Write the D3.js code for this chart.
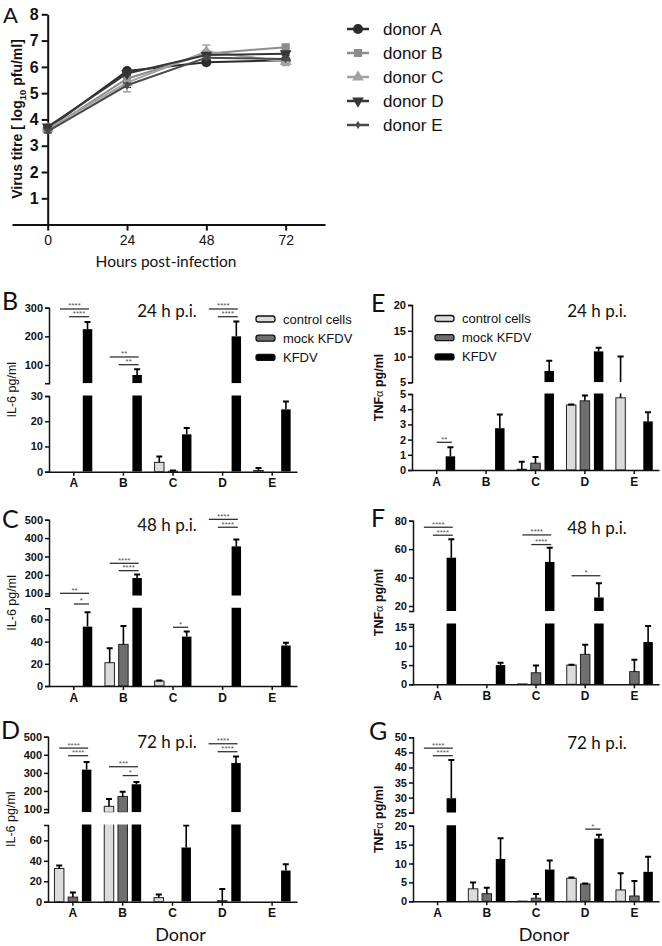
<!DOCTYPE html>
<html>
<head>
<meta charset="utf-8">
<script src="https://cdn.jsdelivr.net/npm/d3@7"></script>
<style>
  body { margin: 0; background: #fff; }
  svg text { font-family: "Liberation Sans", Arial, sans-serif; }
  .lato { font-family: Lato, "Liberation Sans", sans-serif !important; }
</style>
</head>
<body>
<svg id="fig" width="662" height="946"></svg>
<script>
// ---- panel A: virus titre per donor ----
const hours = [0, 24, 48, 72];
const donorNames = ["donor A", "donor B", "donor C", "donor D", "donor E"];
const titreA = [3.65, 5.84, 6.18, 6.25];
const titreB = [3.6, 5.55, 6.5, 6.75];
const titreC = [3.65, 5.4, 6.58, 6.2];
const titreD = [3.72, 5.75, 6.45, 6.5];
const titreE = [3.55, 5.3, 6.35, 6.3];
const sdA = [0.05, 0.05, 0.05, 0.05];
const sdB = [0.05, 0.1, 0.1, 0.05];
const sdC = [0.08, 0.35, 0.25, 0.15];
const sdD = [0.05, 0.05, 0.05, 0.05];
const sdE = [0.05, 0.08, 0.05, 0.05];

// ---- bar panels ----
const donors = ["A", "B", "C", "D", "E"];
const seriesKeys = ["control", "mock", "kfdv"];
const seriesNames = ["control cells", "mock KFDV", "KFDV"];

const il6_24h_control = [0, 0, 3.7, 0, 0.5];
const il6_24h_mock = [0, 0, 0.2, 0, 0];
const il6_24h_kfdv = [225, 65, 14.8, 200, 24.7];
const il6_24h_control_sd = [0, 0, 2.3, 0, 1.0];
const il6_24h_mock_sd = [0, 0, 0.3, 0, 0];
const il6_24h_kfdv_sd = [25, 20, 2.5, 52, 3.1];

const il6_48h_control = [0, 21, 4.5, 0, 0];
const il6_48h_mock = [0, 37.5, 0, 0, 0];
const il6_48h_kfdv = [53.5, 183, 44.5, 355, 36.5];
const il6_48h_control_sd = [0, 13, 0.5, 0, 0];
const il6_48h_mock_sd = [0, 16.5, 0, 0, 0];
const il6_48h_kfdv_sd = [13, 19, 4.5, 38, 2.5];

const il6_72h_control = [32.5, 115, 4, 0, 0];
const il6_72h_mock = [4.5, 170, 0, 1, 0];
const il6_72h_kfdv = [318, 237, 53, 355, 30.5];
const il6_72h_control_sd = [3, 40, 3, 0, 0];
const il6_72h_mock_sd = [4.5, 25, 0, 11.5, 0];
const il6_72h_kfdv_sd = [42, 13, 21.5, 35, 6];

const tnf_24h_control = [0, 0, 0.05, 4.28, 4.75];
const tnf_24h_mock = [0, 0, 0.45, 4.55, 0];
const tnf_24h_kfdv = [0.9, 2.75, 7.2, 11, 3.2];
const tnf_24h_control_sd = [0, 0, 0.5, 0.03, 5.25];
const tnf_24h_mock_sd = [0, 0, 0.4, 0.35, 0];
const tnf_24h_kfdv_sd = [0.6, 0.9, 2, 0.7, 0.6];

const tnf_48h_control = [0, 0, 0.1, 5, 0];
const tnf_48h_mock = [0, 0, 3, 7.8, 3.3];
const tnf_48h_kfdv = [54, 5, 51, 26, 11];
const tnf_48h_control_sd = [0, 0, 0, 0.1, 0];
const tnf_48h_mock_sd = [0, 0, 1.9, 2.5, 3.1];
const tnf_48h_kfdv_sd = [13, 0.6, 10, 10, 4.2];

const tnf_72h_control = [0, 3.3, 0.05, 6.1, 3];
const tnf_72h_mock = [0, 2, 0.8, 4.6, 1.4];
const tnf_72h_kfdv = [29.8, 11.2, 8.4, 16.6, 7.8];
const tnf_72h_control_sd = [0, 1.7, 0, 0.2, 4.4];
const tnf_72h_mock_sd = [0, 1.6, 1.1, 0.1, 4];
const tnf_72h_kfdv_sd = [12.7, 5.5, 2.4, 1, 4];

// significance bars: donor, start bar, level (data units of segment), segment, stars
const sig_il6_24h = [["A", "control", 295.5, "top", "****"], ["A", "mock", 268.6, "top", "****"],
  ["B", "control", 128, "top", "**"], ["B", "mock", 101, "top", "**"],
  ["D", "control", 295.5, "top", "****"], ["D", "mock", 268.6, "top", "****"]];
const sig_il6_48h = [["A", "control", 100, "top", "**"], ["A", "mockc", 42, "top", "*"],
  ["B", "control", 263, "top", "****"], ["B", "mock", 223, "top", "****"],
  ["C", "mockc", 52.9, "low", "*"],
  ["D", "control", 502, "top", "****"], ["D", "mock", 459, "top", "****"]];
const sig_il6_72h = [["A", "control", 437, "top", "****"], ["A", "mock", 395, "top", "****"],
  ["B", "control", 334, "top", "***"], ["B", "mockc", 285, "top", "*"],
  ["D", "control", 461, "top", "****"], ["D", "mock", 417, "top", "****"]];
const sig_tnf_24h = [["A", "mockc", 1.82, "low", "**"]];
const sig_tnf_48h = [["A", "control", 75.4, "top", "****"], ["A", "mock", 69.8, "top", "****"],
  ["C", "control", 70, "top", "****"], ["C", "mock", 63.2, "top", "****"],
  ["D", "control", 41.3, "top", "*"]];
const sig_tnf_72h = [["A", "control", 46.4, "top", "****"], ["A", "mock", 43.9, "top", "****"],
  ["D", "mockc", 19.1, "low", "*"]];

const fills = { control: "#dcdcdc", mock: "#6f6f6f", kfdv: "#000" };

const svg = d3.select("#fig");

// ================= panel A =================
function drawPanelA() {
    const g = svg.append("g");
    const x = d3.scaleLinear().domain([-10.8, 83.9]).range([12, 325]);
    const y = d3.scaleLinear().domain([0, 8]).range([224.6, 14.3]);

    const ya = g.append("g")
        .attr("transform", `translate(${x(0)},0)`)
        .call(d3.axisLeft(y).tickValues([1, 2, 3, 4, 5, 6, 7, 8]).tickSize(6).tickSizeOuter(0).tickPadding(3));
    ya.selectAll("text").attr("font-size", 16).attr("font-weight", "bold").attr("fill", "#111");
    ya.selectAll("line,path").attr("stroke", "#111").attr("stroke-width", 2);

    const xa = g.append("g")
        .attr("transform", `translate(0,${y(0)})`)
        .call(d3.axisBottom(x).tickValues(hours).tickSize(6).tickSizeOuter(0).tickPadding(4));
    xa.selectAll("text").attr("font-size", 14).attr("fill", "#111");
    xa.selectAll("line,path").attr("stroke", "#111").attr("stroke-width", 2);

    const series = [
        { name: donorNames[0], v: titreA, sd: sdA, color: "#2b2b2b", sym: d3.symbolCircle, size: 80, rot: 0 },
        { name: donorNames[1], v: titreB, sd: sdB, color: "#8c8c8c", sym: d3.symbolSquare, size: 64, rot: 0 },
        { name: donorNames[2], v: titreC, sd: sdC, color: "#a2a2a2", sym: d3.symbolTriangle, size: 60, rot: 0 },
        { name: donorNames[3], v: titreD, sd: sdD, color: "#363636", sym: d3.symbolTriangle, size: 60, rot: 180 },
        { name: donorNames[4], v: titreE, sd: sdE, color: "#4a4a4a", sym: d3.symbolDiamond, size: 22, rot: 0 }
    ];

    const line = d3.line().x((d, i) => x(hours[i])).y(d => y(d));

    series.forEach(s => {
        g.append("path").datum(s.v)
            .attr("d", line).attr("fill", "none")
            .attr("stroke", s.color).attr("stroke-width", 2);
        s.v.forEach((v, i) => {
            const cx = x(hours[i]);
            g.append("line").attr("x1", cx).attr("x2", cx)
                .attr("y1", y(v - s.sd[i])).attr("y2", y(v + s.sd[i]))
                .attr("stroke", s.color).attr("stroke-width", 1.5);
            [v - s.sd[i], v + s.sd[i]].forEach(e => {
                g.append("line").attr("x1", cx - 4).attr("x2", cx + 4)
                    .attr("y1", y(e)).attr("y2", y(e))
                    .attr("stroke", s.color).attr("stroke-width", 1.5);
            });
            g.append("path")
                .attr("d", d3.symbol(s.sym, s.size)())
                .attr("transform", `translate(${cx},${y(v)}) rotate(${s.rot})`)
                .attr("fill", s.color);
        });
    });

    // legend
    const leg = g.append("g");
    const ly = d3.scaleLinear().domain([0, 1]).range([29, 53]);
    series.forEach((s, i) => {
        leg.append("line").attr("x1", 347).attr("x2", 369)
            .attr("y1", ly(i)).attr("y2", ly(i))
            .attr("stroke", s.color).attr("stroke-width", 2.5);
        leg.append("path").attr("d", d3.symbol(s.sym, s.size)())
            .attr("transform", `translate(358,${ly(i)}) rotate(${s.rot})`)
            .attr("fill", s.color);
        leg.append("text").attr("x", 383).attr("y", ly(i)).attr("dy", "0.35em")
            .attr("font-size", 17).attr("fill", "#111").text(s.name);
    });

    const yl = g.append("text")
        .attr("transform", `translate(22,${119}) rotate(-90)`)
        .attr("text-anchor", "middle").attr("font-size", 14).attr("font-weight", "bold")
        .attr("fill", "#111");
    yl.append("tspan").text("Virus titre [ log");
    yl.append("tspan").attr("font-size", 9.5).attr("dy", 4).text("10");
    yl.append("tspan").attr("dy", -4).text(" pfu/ml]");

    g.append("text").attr("class", "lato").attr("x", 166).attr("y", 267)
        .attr("text-anchor", "middle").attr("font-size", 15.5).attr("fill", "#111")
        .text("Hours post-infection");

    g.append("text").attr("class", "lato").attr("x", 3).attr("y", 23)
        .attr("font-size", 22).attr("fill", "#111").text("A");
}

// ================= bar panels =================
function drawBarPanel(p) {
    const g = svg.append("g");
    const x = d3.scaleBand().domain(donors).range([p.x0, p.x1]);
    const xi = d3.scaleBand().domain(seriesKeys).range([-18.45, 18.45]).paddingInner(0.31);
    const bw = xi.bandwidth();
    const barX = (d, k) => x(d) + x.bandwidth() / 2 + xi(k);
    const segs = {
        top: { y: d3.scaleLinear().domain(p.topDomain).range(p.topRange), ticks: p.topTicks },
        low: { y: d3.scaleLinear().domain(p.lowDomain).range(p.lowRange), ticks: p.lowTicks }
    };

    Object.keys(segs).forEach(key => {
        const s = segs[key];
        const clipId = `clip-${p.id}-${key}`;
        const r = s.y.range();
        g.append("clipPath").attr("id", clipId).append("rect")
            .attr("x", p.x0).attr("width", p.x1 - p.x0)
            .attr("y", r[1] - 0.5).attr("height", r[0] - r[1] + 0.5);
        const sg = g.append("g").attr("clip-path", `url(#${clipId})`);
        const lo = s.y.domain()[0];

        seriesKeys.forEach((k, i) => {
            const vals = p.values[i];
            const sds = p.errors[i];
            donors.forEach((d, j) => {
                const v = vals[j];
                const e = sds[j];
                const bx = barX(d, k);
                if (v > lo) {
                    sg.append("rect")
                        .attr("x", bx).attr("width", bw)
                        .attr("y", s.y(v)).attr("height", s.y(lo) - s.y(v))
                        .attr("fill", fills[k])
                        .attr("stroke", k === "kfdv" ? "none" : "#222")
                        .attr("stroke-width", 1);
                }
                if (e > 0 && v + e > lo) {
                    const cx = bx + bw / 2;
                    sg.append("line").attr("x1", cx).attr("x2", cx)
                        .attr("y1", s.y(Math.max(v, lo))).attr("y2", s.y(v + e))
                        .attr("stroke", "#000").attr("stroke-width", 1.6);
                    sg.append("line").attr("x1", cx - 3).attr("x2", cx + 3)
                        .attr("y1", s.y(v + e)).attr("y2", s.y(v + e))
                        .attr("stroke", "#000").attr("stroke-width", 2);
                }
            });
        });

        const ax = g.append("g")
            .attr("transform", `translate(${p.x0},0)`)
            .call(d3.axisLeft(s.y).tickValues(s.ticks).tickFormat(d3.format("d"))
                .tickSize(4).tickSizeOuter(4).tickPadding(2));
        ax.selectAll("text").attr("font-size", 11).attr("font-weight", "bold").attr("fill", "#111");
        ax.selectAll("line,path").attr("stroke", "#111").attr("stroke-width", 1.5);
    });

    const xa = g.append("g")
        .attr("transform", `translate(0,${p.lowRange[0]})`)
        .call(d3.axisBottom(x).tickSize(4).tickSizeOuter(0).tickPadding(3));
    xa.selectAll("text").attr("font-size", 12).attr("font-weight", "bold").attr("fill", "#111");
    xa.selectAll("line,path").attr("stroke", "#111").attr("stroke-width", 1.5);

    // significance
    p.sig.forEach(([d, from, lvl, seg, stars]) => {
        const yy = segs[seg].y(lvl);
        let sx;
        if (from === "control") sx = barX(d, "control") + bw / 2;
        else if (from === "mock") sx = barX(d, "mock");
        else sx = barX(d, "mock") + bw / 2;
        const ex = barX(d, "kfdv") + bw / 2 + 1.5;
        g.append("line").attr("x1", sx).attr("x2", ex).attr("y1", yy).attr("y2", yy)
            .attr("stroke", "#333").attr("stroke-width", 1.3);
        g.append("text").attr("x", (sx + ex) / 2).attr("y", yy - 0.5)
            .attr("text-anchor", "middle").attr("font-size", 8).attr("fill", "#555")
            .text(stars);
    });

    g.append("text").attr("class", "lato").attr("x", p.titleX).attr("y", p.titleY)
        .attr("text-anchor", "middle").attr("font-size", 17).attr("fill", "#111").text(p.title);

    const ymid = (p.topRange[1] + p.lowRange[0]) / 2;
    const yl = g.append("text")
        .attr("transform", `translate(${p.ylabelX},${ymid}) rotate(-90)`)
        .attr("text-anchor", "middle").attr("font-size", 12.5).attr("fill", "#111");
    if (p.ylabel === "IL-6") {
        yl.text("IL-6 pg/ml");
    } else {
        yl.attr("font-weight", "bold");
        yl.append("tspan").text("TNF");
        yl.append("tspan").attr("font-weight", "normal").attr("font-size", 11).text("α");
        yl.append("tspan").text("  pg/ml");
    }

    g.append("text").attr("class", "lato").attr("x", p.labelX).attr("y", p.labelY)
        .attr("font-size", 25).attr("fill", "#111").text(p.id);

    if (p.legend) {
        const [lx, ly0] = p.legend;
        seriesKeys.forEach((k, i) => {
            const yy = ly0 + i * 19.2;
            g.append("rect").attr("x", lx).attr("y", yy - 3).attr("width", 19).attr("height", 6)
                .attr("rx", 2.5).attr("fill", fills[k]).attr("stroke", "#111").attr("stroke-width", 1.3);
            g.append("text").attr("x", lx + 27).attr("y", yy).attr("dy", "0.35em")
                .attr("font-size", 13).attr("fill", "#111").text(seriesNames[i]);
        });
    }

    if (p.xlabel) {
        g.append("text").attr("class", "lato").attr("x", (p.x0 + p.x1) / 2 + 8).attr("y", 941)
            .attr("text-anchor", "middle").attr("font-size", 18).attr("fill", "#111").text("Donor");
    }
}

drawPanelA();

const panels = [
    { id: "B", x0: 49, x1: 297, topDomain: [36, 300], topRange: [383.3, 307.7], topTicks: [100, 200, 300],
      lowDomain: [0, 30], lowRange: [471.7, 396], lowTicks: [0, 10, 20, 30],
      values: [il6_24h_control, il6_24h_mock, il6_24h_kfdv],
      errors: [il6_24h_control_sd, il6_24h_mock_sd, il6_24h_kfdv_sd],
      sig: sig_il6_24h, title: "24 h p.i.", titleX: 167, titleY: 317, ylabel: "IL-6", ylabelX: 16,
      labelX: 2, labelY: 310, legend: [256, 319] },
    { id: "C", x0: 49, x1: 297, topDomain: [87, 500], topRange: [595.7, 519.7], topTicks: [100, 200, 300, 400, 500],
      lowDomain: [0, 70], lowRange: [686, 608.3], lowTicks: [0, 20, 40, 60],
      values: [il6_48h_control, il6_48h_mock, il6_48h_kfdv],
      errors: [il6_48h_control_sd, il6_48h_mock_sd, il6_48h_kfdv_sd],
      sig: sig_il6_48h, title: "48 h p.i.", titleX: 167, titleY: 531, ylabel: "IL-6", ylabelX: 16,
      labelX: 2, labelY: 528 },
    { id: "D", x0: 48, x1: 297, topDomain: [82, 500], topRange: [812.3, 736.7], topTicks: [100, 200, 300, 400, 500],
      lowDomain: [0, 75], lowRange: [901.7, 825], lowTicks: [0, 20, 40, 60],
      values: [il6_72h_control, il6_72h_mock, il6_72h_kfdv],
      errors: [il6_72h_control_sd, il6_72h_mock_sd, il6_72h_kfdv_sd],
      sig: sig_il6_72h, title: "72 h p.i.", titleX: 167, titleY: 748, ylabel: "IL-6", ylabelX: 15,
      labelX: 1, labelY: 739, xlabel: true },
    { id: "E", x0: 412, x1: 659, topDomain: [5, 20], topRange: [382.3, 305], topTicks: [5, 10, 15, 20],
      lowDomain: [0, 5], lowRange: [470, 394], lowTicks: [0, 1, 2, 3, 4, 5],
      values: [tnf_24h_control, tnf_24h_mock, tnf_24h_kfdv],
      errors: [tnf_24h_control_sd, tnf_24h_mock_sd, tnf_24h_kfdv_sd],
      sig: sig_tnf_24h, title: "24 h p.i.", titleX: 597, titleY: 317, ylabel: "TNF", ylabelX: 383,
      labelX: 371, labelY: 312, legend: [435, 318.5] },
    { id: "F", x0: 413, x1: 659, topDomain: [16.5, 80], topRange: [611, 520.7], topTicks: [20, 40, 60, 80],
      lowDomain: [0, 15.7], lowRange: [684.3, 624], lowTicks: [0, 5, 10, 15],
      values: [tnf_48h_control, tnf_48h_mock, tnf_48h_kfdv],
      errors: [tnf_48h_control_sd, tnf_48h_mock_sd, tnf_48h_kfdv_sd],
      sig: sig_tnf_48h, title: "48 h p.i.", titleX: 597, titleY: 534, ylabel: "TNF", ylabelX: 383,
      labelX: 371, labelY: 527 },
    { id: "G", x0: 413, x1: 659, topDomain: [25, 50], topRange: [812.7, 737.3], topTicks: [25, 30, 35, 40, 45, 50],
      lowDomain: [0, 20], lowRange: [901.3, 825.7], lowTicks: [0, 5, 10, 15, 20],
      values: [tnf_72h_control, tnf_72h_mock, tnf_72h_kfdv],
      errors: [tnf_72h_control_sd, tnf_72h_mock_sd, tnf_72h_kfdv_sd],
      sig: sig_tnf_72h, title: "72 h p.i.", titleX: 597, titleY: 749, ylabel: "TNF", ylabelX: 383,
      labelX: 369, labelY: 740, xlabel: true }
];

panels.forEach(drawBarPanel);
</script>
</body>
</html>
